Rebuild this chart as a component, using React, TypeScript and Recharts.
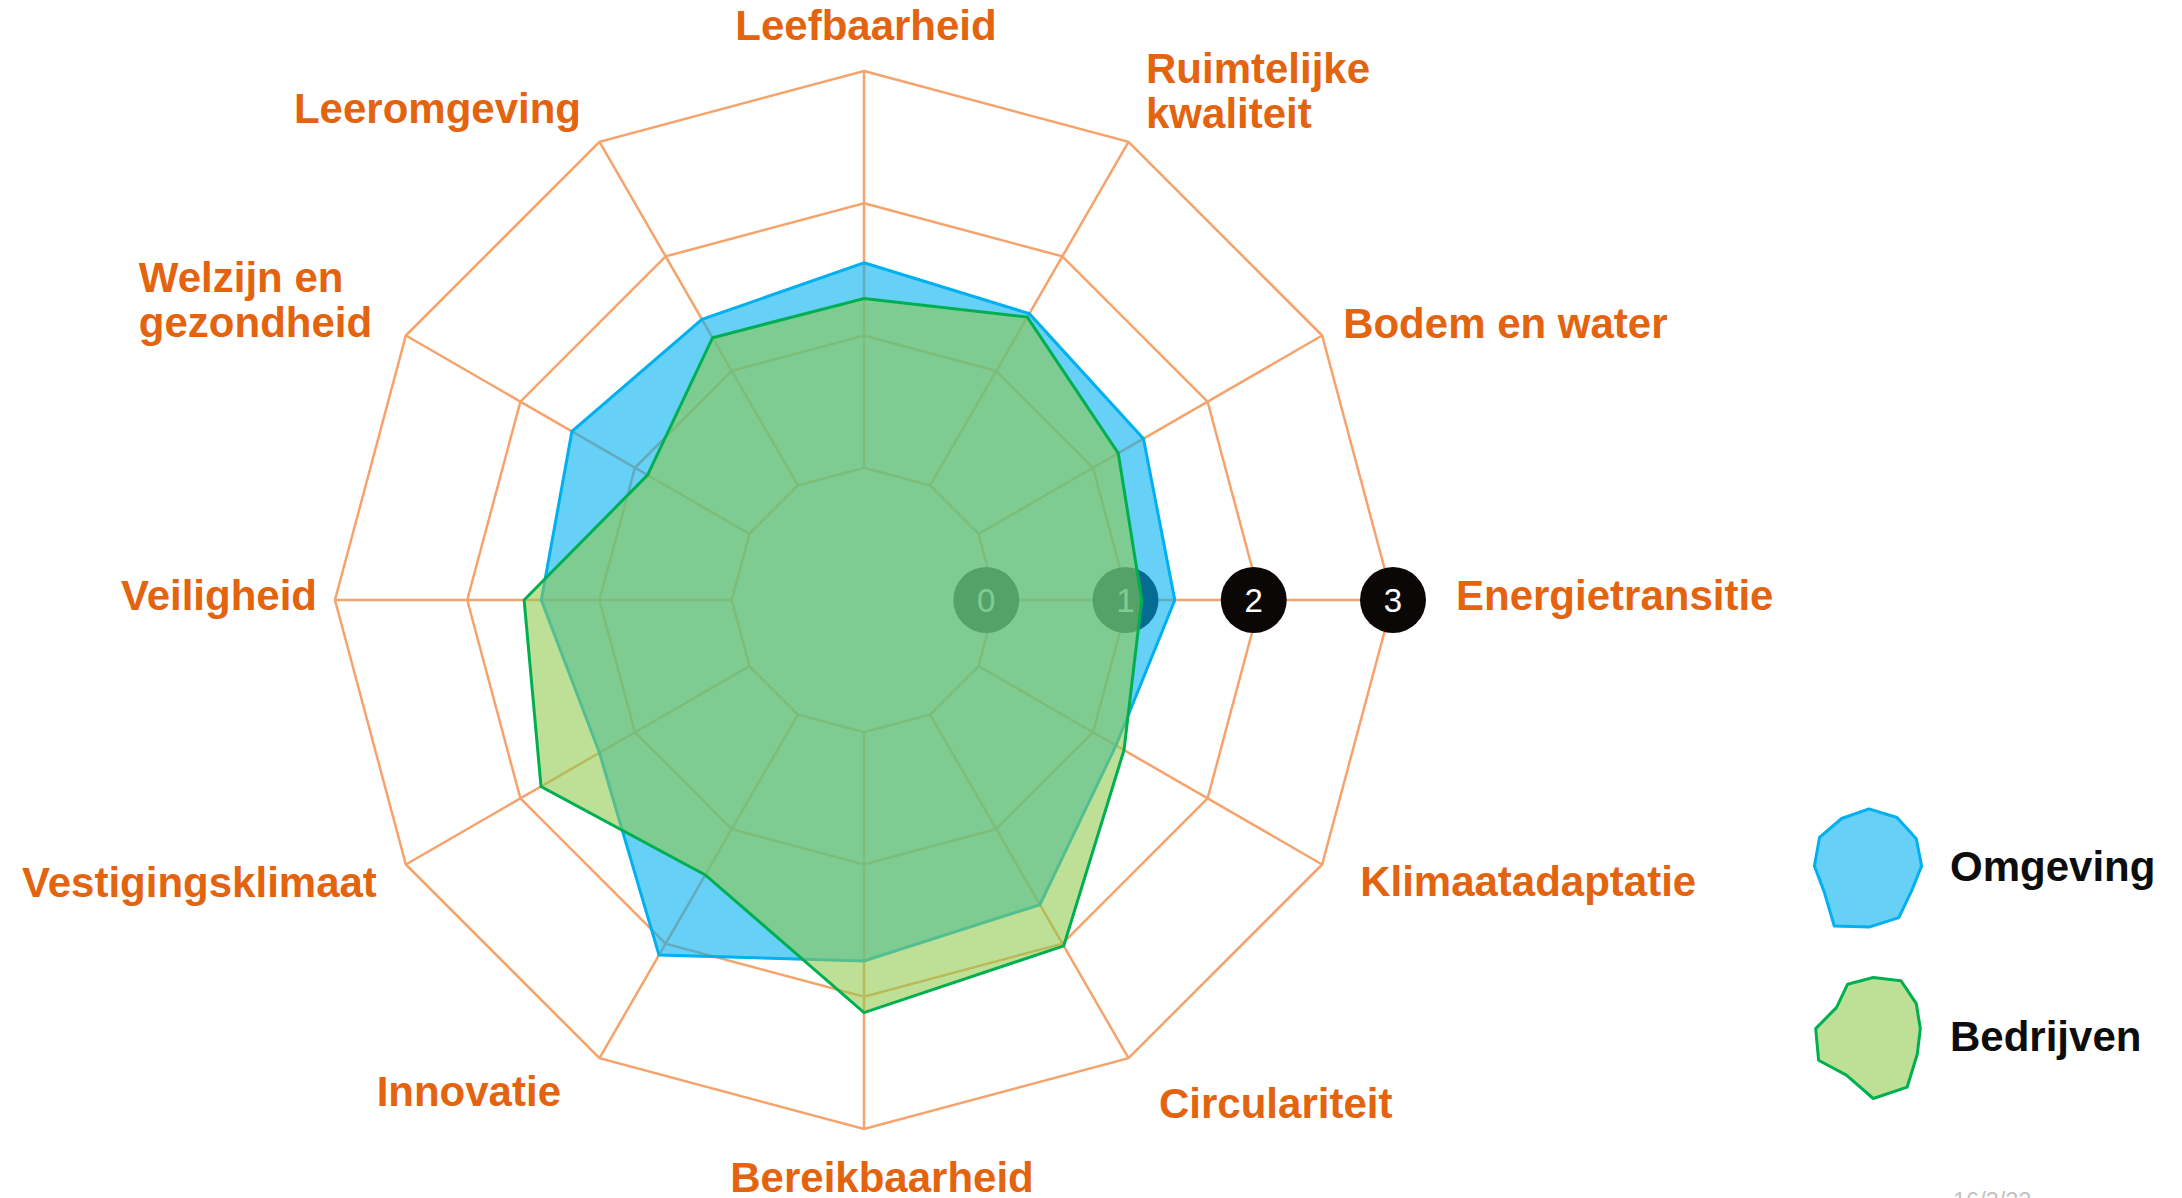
import React from 'react';
import { RadarChart, Radar, PolarGrid, PolarAngleAxis, PolarRadiusAxis, Legend } from 'recharts';

// ---------- data ----------
const categories = [
  'Leefbaarheid',
  'Ruimtelijke kwaliteit',
  'Bodem en water',
  'Energietransitie',
  'Klimaatadaptatie',
  'Circulariteit',
  'Bereikbaarheid',
  'Innovatie',
  'Vestigingsklimaat',
  'Veiligheid',
  'Welzijn en gezondheid',
  'Leeromgeving',
];
const omgeving = [1.55, 1.5, 1.44, 1.35, 1.2, 1.66, 1.73, 2.1, 1.31, 1.44, 1.55, 1.45];
const bedrijven = [1.28, 1.47, 1.22, 1.1, 1.27, 2.02, 2.12, 1.4, 1.82, 1.57, 0.89, 1.29];
const radiusTicks = [0, 1, 2, 3];
const seriesNames = ['Omgeving', 'Bedrijven'];
const dateLabel = '16/3/22';

const data = categories.map((c, i) => ({ axis: c, Omgeving: omgeving[i], Bedrijven: bedrijven[i] }));
const seriesValues: Record<string, number[]> = { Omgeving: omgeving, Bedrijven: bedrijven };

// ---------- layout / style ----------
const W = 2182;
const H = 1198;
const CX = 864;
const CY = 600;
const R = 529;
const R_INNER = 132.25;
const FONT = '"Liberation Sans", Arial, Helvetica, sans-serif';
const LABEL_COLOR = '#E3630F';
const GRID_COLOR = '#F5A36B';
const BLUE = '#00B0F0';
const GREEN_STROKE = '#00B050';
const GREEN_FILL = '#8FCA4A';

const labelLines: Record<string, string[]> = {
  'Ruimtelijke kwaliteit': ['Ruimtelijke', 'kwaliteit'],
  'Welzijn en gezondheid': ['Welzijn en', 'gezondheid'],
};

// label offsets relative to the outer grid vertex of each axis
const labelLayout: { anchor: 'start' | 'middle' | 'end'; dx: number; dy: number }[] = [
  { anchor: 'middle', dx: 2, dy: -31 },
  { anchor: 'start', dx: 17.5, dy: -59 },
  { anchor: 'start', dx: 21, dy: 2.5 },
  { anchor: 'start', dx: 63, dy: 10 },
  { anchor: 'start', dx: 38, dy: 31.5 },
  { anchor: 'start', dx: 30.5, dy: 60 },
  { anchor: 'middle', dx: 18, dy: 63 },
  { anchor: 'end', dx: -38.5, dy: 48 },
  { anchor: 'end', dx: -29, dy: 32.5 },
  { anchor: 'end', dx: -18, dy: 10 },
  { anchor: 'start', dx: -267, dy: -43.5 },
  { anchor: 'end', dx: -18.5, dy: -19 },
];

// small horizontal nudges of the value badges on the radius axis
const badgeNudge: Record<number, number> = { 0: -10, 1: -3, 2: -7, 3: 0 };

const AngleTick = (props: any) => {
  const { x, y, payload } = props;
  const idx = categories.indexOf(payload.value);
  const a = (payload.coordinate * Math.PI) / 180;
  const vx = x - 8 * Math.cos(a);
  const vy = y + 8 * Math.sin(a);
  const lay = labelLayout[idx] || { anchor: 'middle', dx: 0, dy: 0 };
  const lines = labelLines[payload.value] || [payload.value];
  return (
    <text
      x={vx + lay.dx}
      y={vy + lay.dy}
      textAnchor={lay.anchor}
      fill={LABEL_COLOR}
      fontFamily={FONT}
      fontWeight="bold"
      fontSize={42}
    >
      {lines.map((l, i) => (
        <tspan key={i} x={vx + lay.dx} dy={i === 0 ? 0 : 45}>
          {l}
        </tspan>
      ))}
    </text>
  );
};

const RadiusTick = (props: any) => {
  const { x, y, payload } = props;
  const bx = x + (badgeNudge[payload.value] || 0);
  return (
    <g>
      <circle cx={bx} cy={y} r={33} fill="#0B0707" />
      <text x={bx} y={y + 12} textAnchor="middle" fill="#FFFFFF" fontFamily={FONT} fontSize={33}>
        {payload.value}
      </text>
    </g>
  );
};

const LEG_LEFT = 1790;
const LEG_TOP = 790;
const ICON_SCALE = 22.4 / R_INNER;

const iconPolygon = (vals: number[], cxI: number, cyI: number) => {
  const unit = (R - R_INNER) / (radiusTicks[radiusTicks.length - 1] - radiusTicks[0]);
  const pts = vals.map((v, i) => {
    const a = ((90 - i * 30) * Math.PI) / 180;
    const r = (R_INNER + (v - radiusTicks[0]) * unit) * ICON_SCALE;
    return [r * Math.cos(a), -r * Math.sin(a)];
  });
  const xs = pts.map((p) => p[0]);
  const ys = pts.map((p) => p[1]);
  const mx = (Math.min(...xs) + Math.max(...xs)) / 2;
  const my = (Math.min(...ys) + Math.max(...ys)) / 2;
  return pts.map((p) => `${(p[0] - mx + cxI).toFixed(1)},${(p[1] - my + cyI).toFixed(1)}`).join(' ');
};

const LegendContent = (props: any) => {
  const payload = [...(props.payload || [])].sort(
    (a: any, b: any) => seriesNames.indexOf(a.value) - seriesNames.indexOf(b.value)
  );
  return (
    <svg width={392} height={408} style={{ overflow: 'visible', display: 'block' }}>
      {payload.map((entry: any, i: number) => {
        const name = entry.value;
        const vals = seriesValues[name] || [];
        const rowY = 78 + i * 170;
        const isBlue = name === 'Omgeving';
        return (
          <g key={name}>
            <polygon
              points={iconPolygon(vals, 78, rowY)}
              fill={isBlue ? BLUE : GREEN_FILL}
              fillOpacity={isBlue ? 0.6 : 0.58}
              stroke={isBlue ? BLUE : GREEN_STROKE}
              strokeWidth={3}
              strokeLinejoin="round"
            />
            <text x={160} y={rowY + 12.5} fill="#0D0D0D" fontFamily={FONT} fontWeight="bold" fontSize={42}>
              {name}
            </text>
          </g>
        );
      })}
      <text x={163} y={419} fill="#C2C2C2" fontFamily={FONT} fontSize={23.5}>
        {dateLabel}
      </text>
    </svg>
  );
};

export default function App() {
  return (
    <div style={{ position: 'relative', width: W, height: H, background: '#FFFFFF' }}>
      <style>{'body{margin:0;background:#fff;}'}</style>
      <RadarChart
        width={W}
        height={H}
        data={data}
        cx={CX}
        cy={CY}
        innerRadius={R_INNER}
        outerRadius={R}
        startAngle={90}
        endAngle={-270}
        margin={{ top: 0, right: 0, bottom: 0, left: 0 }}
      >
        <PolarGrid gridType="polygon" stroke={GRID_COLOR} strokeWidth={2.5} strokeOpacity={1} />
        <PolarAngleAxis dataKey="axis" tick={AngleTick} tickLine={false} axisLine={false} />
        <PolarRadiusAxis
          angle={0}
          type="number"
          domain={[radiusTicks[0], radiusTicks[radiusTicks.length - 1]]}
          ticks={radiusTicks as any}
          tickCount={radiusTicks.length}
          tick={RadiusTick}
          axisLine={false}
          tickLine={false}
          zIndex={50}
        />
        <Radar
          name={seriesNames[0]}
          dataKey="Omgeving"
          stroke={BLUE}
          strokeWidth={3}
          fill={BLUE}
          fillOpacity={0.6}
          dot={false}
          isAnimationActive={false}
        />
        <Radar
          name={seriesNames[1]}
          dataKey="Bedrijven"
          stroke={GREEN_STROKE}
          strokeWidth={3}
          fill={GREEN_FILL}
          fillOpacity={0.58}
          dot={false}
          isAnimationActive={false}
        />
        <Legend
          layout="vertical"
          align="right"
          verticalAlign="middle"
          content={LegendContent}
          wrapperStyle={{ left: LEG_LEFT, top: LEG_TOP, right: 'auto', bottom: 'auto', width: 392, height: 408 }}
        />
      </RadarChart>
    </div>
  );
}
